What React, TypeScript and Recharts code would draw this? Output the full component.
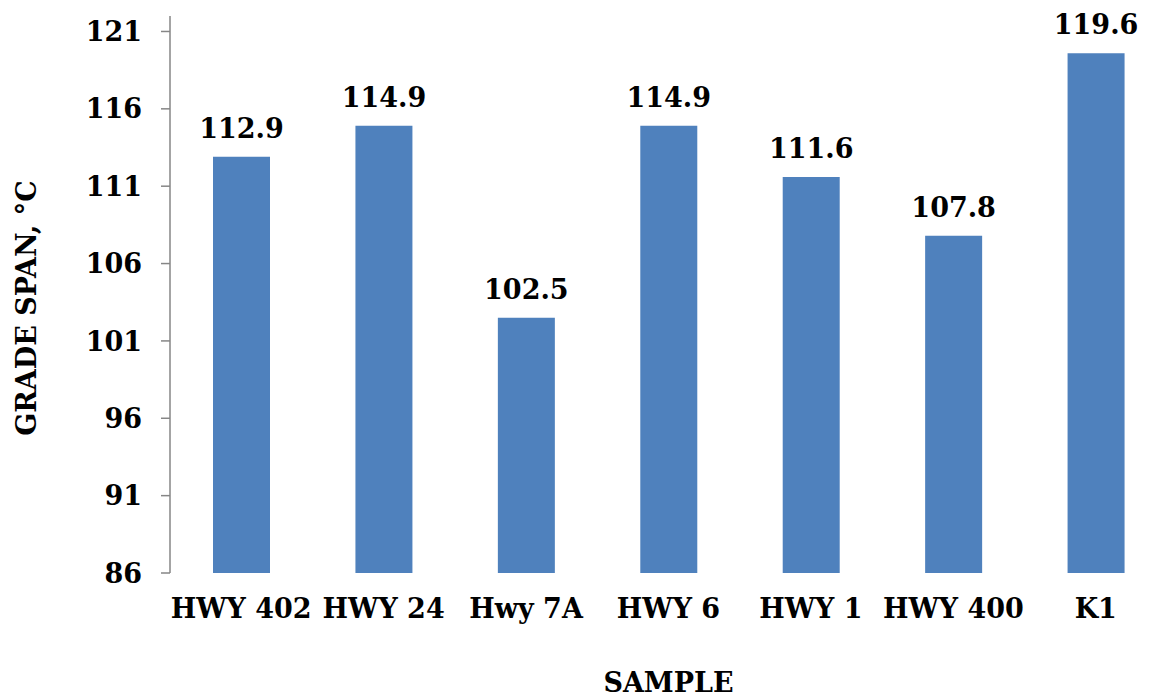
import { Bar, BarChart, LabelList, XAxis, YAxis } from "recharts";

const samples = ["HWY 402", "HWY 24", "Hwy 7A", "HWY 6", "HWY 1", "HWY 400", "K1"];
const gradeSpan = [112.9, 114.9, 102.5, 114.9, 111.6, 107.8, 119.6];
const yTicks = [86, 91, 96, 101, 106, 111, 116, 121];
const edgeTicks = [0, 1, 2, 3, 4, 5, 6, 7];

const data = samples.map((name, i) => ({ name, value: gradeSpan[i] }));

const font = "DejaVu Serif";
const axisGray = "#868686";
const tickStyle = { fontFamily: font, fontWeight: 700, fontSize: 27, fill: "#000" };

export default function App() {
  return (
    <div style={{ position: "absolute", left: 0, top: 0, background: "#fff", fontFamily: font }}>
      <BarChart
        width={1167}
        height={700}
        data={data}
        margin={{ top: 16, right: 0, left: 0, bottom: 0 }}
      >
        <XAxis
          xAxisId="edge"
          type="number"
          domain={[0, 7]}
          ticks={edgeTicks}
          tick={false}
          tickSize={9}
          height={0}
          stroke={axisGray}
          axisLine={{ stroke: axisGray, strokeWidth: 1.5 }}
          tickLine={{ stroke: axisGray, strokeWidth: 1.5 }}
        />
        <XAxis
          dataKey="name"
          axisLine={false}
          tickLine={false}
          tickSize={9}
          tickMargin={17}
          height={127}
          interval={0}
          tick={tickStyle}
          label={{
            content: () => (
              <text
                x={668.5}
                y={692}
                textAnchor="middle"
                fontFamily={font}
                fontWeight={700}
                fontSize={27}
                fill="#000"
              >
                SAMPLE
              </text>
            )
          }}
        />
        <YAxis
          width={170}
          domain={[86, 122]}
          ticks={yTicks}
          allowDataOverflow
          tickSize={9}
          tickMargin={19}
          tick={tickStyle}
          axisLine={{ stroke: axisGray, strokeWidth: 1.5 }}
          tickLine={{ stroke: axisGray, strokeWidth: 1.5 }}
          label={{
            content: () => (
              <text
                x={26}
                y={308}
                textAnchor="middle"
                dominantBaseline="central"
                transform="rotate(-90 26 308)"
                fontFamily={font}
                fontWeight={700}
                fontSize={27}
                fill="#000"
              >
                GRADE SPAN, °C
              </text>
            )
          }}
        />
        <Bar dataKey="value" fill="#4F81BD" barSize={57} isAnimationActive={false}>
          <LabelList
            dataKey="value"
            position="top"
            offset={19}
            formatter={(v: number) => v.toFixed(1)}
            fontFamily={font}
            fontWeight={700}
            fontSize={27}
            fill="#000"
          />
        </Bar>
      </BarChart>
    </div>
  );
}
